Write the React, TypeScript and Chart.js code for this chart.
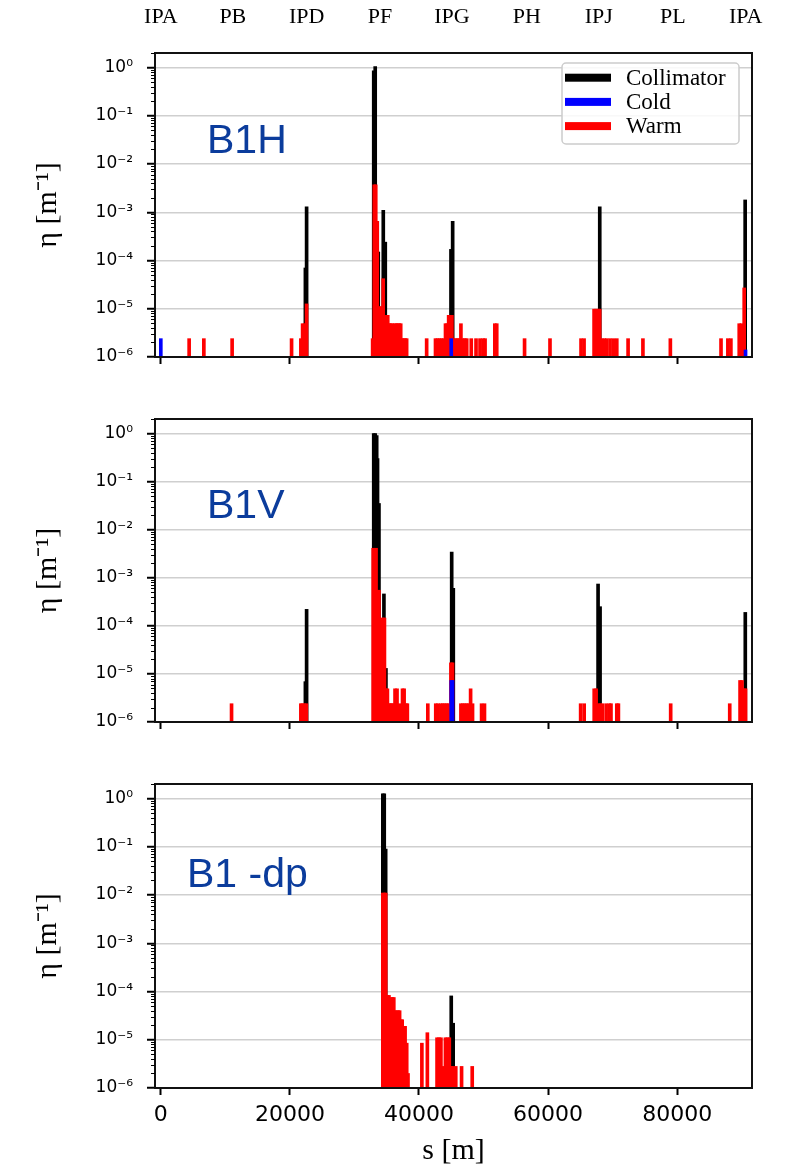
import React, { useEffect, useRef } from 'react';
import { Chart, registerables } from 'chart.js';

Chart.register(...registerables);

// ---------- data ----------
const X_MIN = -900;
const X_MAX = 91600;
const Y_MIN = 1e-6;
const Y_MAX = 2;

const X_TICKS = [0, 20000, 40000, 60000, 80000];
const Y_EXPONENTS = [-6, -5, -4, -3, -2, -1, 0];
const Y_TICK_LABELS = ['10⁻⁶', '10⁻⁵', '10⁻⁴', '10⁻³', '10⁻²', '10⁻¹', '10⁰'];

const IP_LABELS = ['IPA', 'PB', 'IPD', 'PF', 'IPG', 'PH', 'IPJ', 'PL', 'IPA'];
const IP_POSITIONS = [0, 11160, 22590, 33950, 45110, 56700, 67860, 79330, 90620];

const SERIES_NAMES = ['Collimator', 'Cold', 'Warm'];
const SERIES_COLORS = ['#000000', '#0000ff', '#ff0000'];

// [s (m), eta (1/m)]
const B1H_COLLIMATOR: [number, number][] = [
  [22400, 7e-5], [22590, 1.3e-3], [32990, 0.85], [33220, 1.05], [33530, 6.5e-4], [33690, 1.5e-4],
  [34470, 1.1e-3], [34780, 2.4e-4], [44960, 1.7e-4], [45220, 6.5e-4], [68010, 1.3e-3], [90540, 1.8e-3],
];
const B1H_COLD: [number, number][] = [[0, 2.4e-6], [45000, 2.4e-6], [90600, 1.4e-6]];
const B1H_WARM: [number, number][] = [
  [4390, 2.4e-6], [6670, 2.4e-6], [11050, 2.4e-6], [20260, 2.4e-6], [21700, 2.4e-6], [21970, 4.9e-6],
  [22280, 4.9e-6], [22590, 1.26e-5],
  [32820, 2.4e-6], [33070, 3.7e-3], [33300, 3.7e-3], [33530, 6.5e-4], [33760, 1.1e-5], [33990, 1.1e-5],
  [34220, 1.1e-5], [34450, 4.2e-5], [34700, 7.3e-6], [34930, 7.3e-6], [35160, 7.3e-6], [35390, 4.9e-6],
  [35620, 4.9e-6], [35850, 4.9e-6], [36240, 4.9e-6], [36480, 4.9e-6], [36710, 4.9e-6], [36940, 4.9e-6],
  [37170, 4.9e-6], [37400, 2.4e-6], [37630, 2.4e-6], [37860, 2.4e-6], [38090, 2.4e-6],
  [41190, 2.4e-6],
  [42560, 2.4e-6], [42870, 2.4e-6], [43180, 2.4e-6], [43490, 2.4e-6], [43800, 2.4e-6], [44110, 4.9e-6],
  [44350, 4.9e-6], [44600, 7.3e-6], [44850, 7.3e-6], [45100, 7.3e-6], [45400, 2.4e-6], [45700, 2.4e-6],
  [46000, 2.4e-6], [46250, 2.4e-6], [46500, 4.9e-6], [46800, 2.4e-6], [47100, 2.4e-6], [47400, 2.4e-6],
  [48100, 2.4e-6], [48840, 2.4e-6], [49460, 2.4e-6], [49930, 2.4e-6], [50240, 2.4e-6], [51750, 4.9e-6],
  [52050, 4.9e-6], [56360, 2.4e-6], [60300, 2.4e-6],
  [65110, 2.4e-6], [65580, 2.4e-6], [67130, 9.8e-6], [67440, 9.8e-6], [67750, 9.8e-6], [68000, 9.8e-6],
  [68330, 2.4e-6], [68720, 2.4e-6], [69090, 2.4e-6], [69610, 2.4e-6], [70120, 2.4e-6], [70650, 2.4e-6],
  [72400, 2.4e-6], [74700, 2.4e-6], [78950, 2.4e-6], [86800, 2.4e-6], [87860, 2.4e-6], [88330, 2.4e-6],
  [89620, 4.9e-6], [89950, 4.9e-6], [90390, 2.7e-5],
];

const B1V_COLLIMATOR: [number, number][] = [
  [22400, 6.9e-6], [22590, 2.2e-4], [32990, 1.0], [33220, 1.0], [33450, 0.9], [33580, 0.3], [33800, 0.035],
  [33990, 5e-5], [34570, 4.6e-4], [34880, 1.3e-5], [45070, 3.4e-3], [45320, 6e-4], [67750, 7.4e-4],
  [68060, 2.5e-4], [90560, 1.9e-4],
];
const B1V_COLD: [number, number][] = [[45000, 7.3e-6], [45200, 7.3e-6]];
const B1V_WARM: [number, number][] = [
  [10960, 2.4e-6], [21700, 2.4e-6], [21930, 2.4e-6], [22240, 2.4e-6], [22550, 2.4e-6],
  [32900, 4.1e-3], [33120, 4.1e-3], [33350, 4.1e-3], [33580, 5.5e-4], [33800, 5.5e-4], [34030, 5e-5],
  [34260, 1.45e-4], [34490, 1.45e-4], [34650, 1.45e-4], [34880, 4.9e-6], [35110, 4.9e-6], [35340, 2.4e-6],
  [35570, 2.4e-6], [35800, 2.4e-6], [36030, 2.4e-6], [36290, 4.9e-6], [36600, 4.9e-6], [37020, 2.4e-6],
  [37450, 4.9e-6], [37700, 4.9e-6], [37980, 2.4e-6], [38200, 2.4e-6],
  [41370, 2.4e-6],
  [42600, 2.4e-6], [42950, 2.4e-6], [43400, 2.4e-6], [43700, 2.4e-6], [44000, 2.4e-6], [44300, 2.4e-6],
  [44600, 2.4e-6], [44950, 1.7e-5], [45200, 1.7e-5],
  [46500, 2.4e-6], [46800, 2.4e-6], [47100, 2.4e-6], [47400, 2.4e-6], [47700, 2.4e-6], [48000, 4.9e-6],
  [48300, 2.4e-6], [49700, 2.4e-6], [50150, 2.4e-6],
  [65050, 2.4e-6], [65600, 2.4e-6], [67150, 4.9e-6], [67450, 4.9e-6], [67800, 2.4e-6], [68100, 2.4e-6],
  [68400, 2.4e-6], [69000, 2.4e-6], [69500, 2.4e-6], [69750, 2.4e-6], [70650, 2.4e-6], [70900, 2.4e-6],
  [79000, 2.4e-6], [88150, 2.4e-6], [89750, 7.3e-6], [90050, 7.3e-6], [90350, 4.9e-6], [90600, 4.9e-6],
];

const B1DP_COLLIMATOR: [number, number][] = [
  [34400, 1.25], [34620, 1.25], [34840, 0.09], [45000, 8.1e-5], [45300, 2.2e-5],
];
const B1DP_COLD: [number, number][] = [];
const B1DP_WARM: [number, number][] = [
  [34400, 0.011], [34620, 0.011], [34850, 0.011], [35100, 8.3e-5], [35350, 8.3e-5], [35650, 7.5e-5],
  [35900, 7.5e-5], [36100, 7.5e-5], [36300, 4e-5], [36550, 4e-5], [36800, 4e-5], [37000, 4e-5],
  [37200, 2.6e-5], [37400, 2.6e-5], [37600, 1.9e-5], [37850, 1.9e-5], [38100, 8.5e-6], [38300, 2e-6],
  [40450, 8.5e-6], [41300, 1.4e-5], [42800, 1.1e-5], [43100, 1.1e-5], [43400, 1.1e-5], [43750, 2.8e-6],
  [44100, 1.1e-5], [44400, 1.1e-5], [44700, 1.1e-5], [45000, 2.8e-6], [45200, 2.8e-6], [45700, 2.8e-6],
  [46600, 2.8e-6], [48250, 2.8e-6],
];

// ---------- panels ----------
type Panel = {
  name: string;
  collimator: [number, number][];
  cold: [number, number][];
  warm: [number, number][];
  top: number;
  height: number;
  padTop: number;
  bottomH: number;
  topLabels: boolean;
  xLabels: boolean;
  legend: boolean;
  nameDx: number;
  nameDy: number;
};

const PANELS: Panel[] = [
  { name: 'B1H', collimator: B1H_COLLIMATOR, cold: B1H_COLD, warm: B1H_WARM, top: 0, height: 390, padTop: 0,
    bottomH: 33, topLabels: true, xLabels: false, legend: true, nameDx: 52, nameDy: 100 },
  { name: 'B1V', collimator: B1V_COLLIMATOR, cold: B1V_COLD, warm: B1V_WARM, top: 390, height: 360, padTop: 29,
    bottomH: 28, topLabels: false, xLabels: false, legend: false, nameDx: 52, nameDy: 99 },
  { name: 'B1 -dp', collimator: B1DP_COLLIMATOR, cold: B1DP_COLD, warm: B1DP_WARM, top: 750, height: 421, padTop: 34,
    bottomH: 83, topLabels: false, xLabels: true, legend: false, nameDx: 32, nameDy: 103 },
];

const LABEL_COLOR = '#0b3c9c';

const framePlugin = {
  id: 'frame',
  afterDatasetsDraw(chart: any) {
    const { ctx, chartArea: a } = chart;
    ctx.save();
    ctx.strokeStyle = '#111';
    ctx.lineWidth = 2;
    ctx.strokeRect(a.left, a.top, a.right - a.left, a.bottom - a.top);
    // minor log ticks on the y axis
    const y = chart.scales.y;
    ctx.lineWidth = 1;
    ctx.strokeStyle = '#000';
    for (const e of Y_EXPONENTS) {
      for (let m = 2; m <= 9; m++) {
        const v = m * Math.pow(10, e);
        if (v > Y_MAX) continue;
        const py = Math.round(y.getPixelForValue(v)) + 0.5;
        ctx.beginPath();
        ctx.moveTo(a.left - 4, py);
        ctx.lineTo(a.left, py);
        ctx.stroke();
      }
    }
    ctx.restore();
  },
};

function makeOverlay(p: Panel) {
  return {
    id: 'overlay',
    afterDraw(chart: any) {
      const { ctx, chartArea: a } = chart;
      ctx.save();
      ctx.fillStyle = LABEL_COLOR;
      ctx.font = '41px "Liberation Sans", Arial, sans-serif';
      ctx.textBaseline = 'alphabetic';
      ctx.textAlign = 'left';
      ctx.fillText(p.name, a.left + p.nameDx, a.top + p.nameDy);
      if (p.legend) {
        const bx = a.right - 190;
        const by = a.top + 10;
        const bw = 177;
        const bh = 81;
        ctx.fillStyle = 'rgba(255,255,255,0.85)';
        ctx.strokeStyle = '#cccccc';
        ctx.lineWidth = 1.5;
        ctx.beginPath();
        (ctx as any).roundRect(bx, by, bw, bh, 4);
        ctx.fill();
        ctx.stroke();
        ctx.font = '23px "Liberation Serif", "Times New Roman", serif';
        ctx.textBaseline = 'middle';
        SERIES_NAMES.forEach((n, i) => {
          const yy = by + 14.7 + i * 24.2;
          ctx.fillStyle = SERIES_COLORS[i];
          ctx.fillRect(bx + 3, yy - 4, 46, 8);
          ctx.fillStyle = '#000';
          ctx.fillText(n, bx + 64, yy + 1);
        });
      }
      ctx.restore();
    },
  };
}

function buildConfig(p: Panel): any {
  const ds = (i: number, data: [number, number][], order: number) => ({
    label: SERIES_NAMES[i],
    data: data.map(([s, v]) => ({ x: s, y: [Y_MIN, v] })),
    backgroundColor: SERIES_COLORS[i],
    borderWidth: 0,
    barThickness: 3,
    grouped: false,
    order,
  });
  const scales: any = {
    x: {
      type: 'linear',
      position: 'bottom',
      min: X_MIN,
      max: X_MAX,
      offset: false,
      afterBuildTicks: (s: any) => {
        s.ticks = X_TICKS.map((v) => ({ value: v }));
      },
      afterFit: (s: any) => {
        s.height = p.bottomH;
      },
      grid: { offset: false, drawOnChartArea: false, drawTicks: true, tickLength: 7, tickColor: '#000', tickWidth: 2 },
      border: { display: false },
      ticks: {
        callback: (v: number) => (p.xLabels ? String(v) : ''),
        font: { family: '"DejaVu Sans", sans-serif', size: 22 },
        color: '#000',
        padding: 7,
        maxRotation: 0,
        autoSkip: false,
      },
      title: p.xLabels
        ? {
            display: true,
            text: 's [m]',
            font: { family: '"Liberation Serif", "Times New Roman", serif', size: 30 },
            color: '#000',
            padding: { top: 0, bottom: 2 },
          }
        : { display: false },
    },
    y: {
      type: 'logarithmic',
      min: Y_MIN,
      max: Y_MAX,
      afterBuildTicks: (s: any) => {
        s.ticks = Y_EXPONENTS.map((e) => ({ value: Math.pow(10, e), major: true }));
      },
      afterFit: (s: any) => {
        s.width = 155;
      },
      grid: { color: '#cfcfcf', lineWidth: 1.5, drawTicks: true, tickLength: 8, tickColor: '#000', tickWidth: 2 },
      border: { display: false },
      ticks: {
        callback: (v: number) => {
          const e = Math.round(Math.log10(v));
          return Y_TICK_LABELS[Y_EXPONENTS.indexOf(e)] ?? '';
        },
        font: { family: '"DejaVu Sans", sans-serif', size: 17 },
        color: '#000',
        padding: 14,
        autoSkip: false,
      },
      title: {
        display: true,
        text: 'η [m⁻¹]',
        font: { family: '"Liberation Serif", "Times New Roman", serif', size: 30 },
        color: '#000',
        padding: { top: 30, bottom: 0 },
      },
    },
  };
  if (p.topLabels) {
    scales.xTop = {
      type: 'linear',
      position: 'top',
      min: X_MIN,
      max: X_MAX,
      offset: false,
      afterBuildTicks: (s: any) => {
        s.ticks = IP_POSITIONS.map((v) => ({ value: v }));
      },
      afterFit: (s: any) => {
        s.height = 53;
      },
      grid: { display: false, drawTicks: false, offset: false },
      border: { display: false },
      ticks: {
        callback: (_v: number, i: number) => IP_LABELS[i],
        font: { family: '"Liberation Serif", "Times New Roman", serif', size: 22 },
        color: '#000',
        padding: 23,
        maxRotation: 0,
        autoSkip: false,
      },
    };
  }
  return {
    type: 'bar',
    data: {
      datasets: [
        ds(0, p.collimator, 3),
        ds(1, p.cold, 1),
        ds(2, p.warm, 2),
      ],
    },
    options: {
      animation: false,
      responsive: false,
      devicePixelRatio: 1,
      layout: { padding: { top: p.padTop, right: 38, left: 0, bottom: 0 } },
      plugins: { legend: { display: false }, tooltip: { enabled: false } },
      scales,
    },
    plugins: [framePlugin, makeOverlay(p)],
  };
}

function PanelChart({ p }: { p: Panel }) {
  const ref = useRef<HTMLCanvasElement | null>(null);
  useEffect(() => {
    if (!ref.current) return;
    const chart = new Chart(ref.current, buildConfig(p));
    return () => chart.destroy();
  }, [p]);
  return (
    <canvas
      ref={ref}
      width={790}
      height={p.height}
      style={{ position: 'absolute', left: 0, top: p.top, width: 790, height: p.height }}
    />
  );
}

export default function App() {
  return (
    <div style={{ position: 'absolute', left: 0, top: 0, width: 790, height: 1171, background: '#fff', overflow: 'hidden' }}>
      {PANELS.map((p) => (
        <PanelChart key={p.name} p={p} />
      ))}
    </div>
  );
}
